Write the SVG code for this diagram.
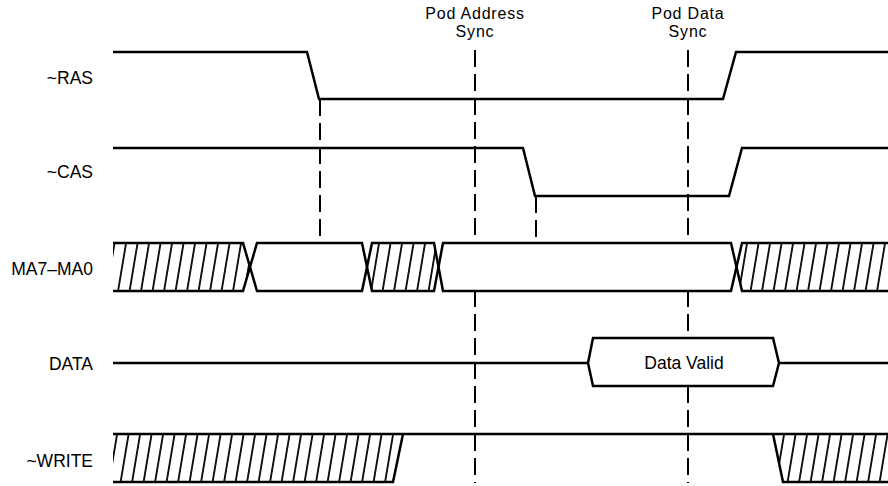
<svg xmlns="http://www.w3.org/2000/svg" width="888" height="486" viewBox="0 0 888 486">
<style>
.bg{fill:#fff}
.sig{fill:none;stroke:#000;stroke-width:2.5;stroke-linejoin:miter;stroke-linecap:butt}
.wf{fill:#fff;stroke:none}
.hf{fill:url(#hatch);stroke:none}
.sync{fill:none;stroke:#000;stroke-width:2;stroke-dasharray:17 7}
.lbl{font-family:"Liberation Sans",Arial,sans-serif;font-size:17.5px;fill:#000;text-anchor:end}
.ctr{font-family:"Liberation Sans",Arial,sans-serif;font-size:17.5px;fill:#000;text-anchor:middle}
.top{font-family:"Liberation Sans",Arial,sans-serif;font-size:16px;letter-spacing:0.8px;fill:#000;text-anchor:middle}
</style>
<defs>
<pattern id="hatch" patternUnits="userSpaceOnUse" width="11.5" height="48" patternTransform="skewX(-9.5)">
<line x1="5.75" y1="-2" x2="5.75" y2="50" stroke="#000" stroke-width="1.8"/>
</pattern>
</defs>
<rect class="bg" x="0" y="0" width="888" height="486"/>
<g id="connectors">
<path class="sync" d="M320,99 V238"/>
<path class="sync" d="M475,50 V483"/>
<path class="sync" d="M536,196 V238"/>
<path class="sync" d="M688,50 V483"/>
</g>
<g id="sync-labels">
<text class="top" x="475" y="19">Pod Address</text>
<text class="top" x="475" y="37">Sync</text>
<text class="top" x="688" y="19">Pod Data</text>
<text class="top" x="688" y="37">Sync</text>
</g>
<g id="ras">
<text class="lbl" x="93" y="84">~RAS</text>
<path class="sig" d="M113,52 H307 L319,99 H723 L736,52 H888"/>
</g>
<g id="cas">
<text class="lbl" x="93" y="178">~CAS</text>
<path class="sig" d="M113,148 H523 L535,196 H729 L742,148 H888"/>
</g>
<g id="ma">
<text class="lbl" x="93" y="275">MA7–MA0</text>
<polygon class="hf" points="113,243 243,243 250,267 243,291 113,291"/>
<polygon class="wf" points="250,267 257,243 362,243 367,267 362,291 257,291"/>
<polygon class="hf" points="367,267 372,243 434,243 438.5,267 434,291 372,291"/>
<polygon class="wf" points="438.5,267 443,243 731,243 736.5,267 731,291 443,291"/>
<polygon class="hf" points="736.5,267 742,243 888,243 888,291 742,291"/>
<path class="sig" d="M113,243 H243 L257,291 H362 L372,243 H434 L443,291 H731 L742,243 H888"/>
<path class="sig" d="M113,291 H243 L257,243 H362 L372,291 H434 L443,243 H731 L742,291 H888"/>
</g>
<g id="data">
<text class="lbl" x="93" y="370">DATA</text>
<path class="sig" d="M113,363 H588"/>
<polygon class="sig" style="fill:#fff" points="588,363 593,338 773,338 779,363 773,386 593,386"/>
<path class="sig" d="M779,363 H888"/>
<text class="ctr" x="684" y="369">Data Valid</text>
</g>
<g id="write">
<text class="lbl" x="93" y="467">~WRITE</text>
<polygon class="hf" points="113,434 403,434 393,482 113,482"/>
<polygon class="hf" points="773,434 888,434 888,482 783,482"/>
<path class="sig" d="M113,434 H888"/>
<path class="sig" d="M113,482 H393 L403,434"/>
<path class="sig" d="M773,434 L783,482 H888"/>
</g>
</svg>
